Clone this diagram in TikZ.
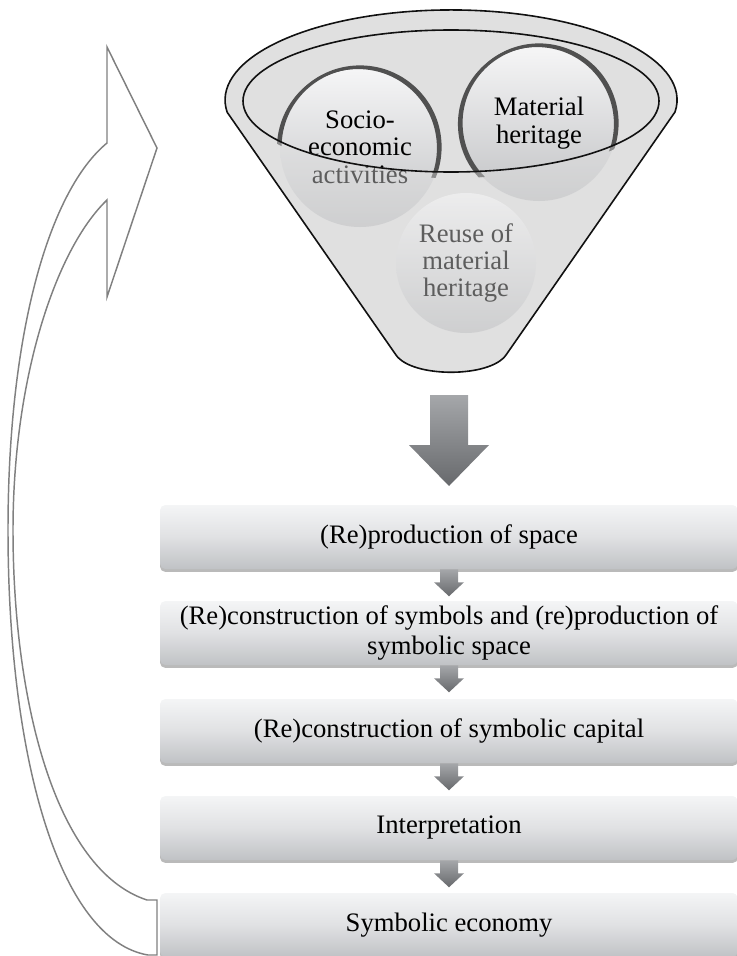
\documentclass[tikz,border=0pt]{standalone}
\usepackage{fontspec}
\setmainfont{Liberation Serif}
\usetikzlibrary{calc,shadows}

\definecolor{funnelfill}{HTML}{E0E0E0}
\definecolor{rimline}{HTML}{111111}
\definecolor{bubbletop}{HTML}{F6F6F7}
\definecolor{bubblebot}{HTML}{C2C3C5}
\definecolor{bubbleedge}{HTML}{505050}
\definecolor{boxtop}{HTML}{F4F5F6}
\definecolor{boxmid}{HTML}{E0E1E3}
\definecolor{boxbot}{HTML}{C0C2C5}
\definecolor{arrtop}{HTML}{A5A7AA}
\definecolor{arrbot}{HTML}{67696C}
\definecolor{loopline}{HTML}{808080}

\tikzset{
  stepbox/.style={rectangle, rounded corners=4pt, minimum width=433.5pt,
    minimum height=48pt, inner sep=0pt, top color=boxtop, bottom color=boxbot,
    middle color=boxmid,
    drop shadow={shadow xshift=0pt, shadow yshift=-2.2pt, opacity=0.45, fill=gray!80!black},
    font=\fontsize{20}{22.5}\selectfont, align=center, text=black},
  bubble/.style={circle, inner sep=0pt, top color=bubbletop, bottom color=bubblebot,
    font=\fontsize{20}{20.5}\selectfont, align=center, text=black},
  smallarr/.pic={
    \shade[top color=arrtop, bottom color=arrbot]
      (-9,0) -- (9,0) -- (9,13) -- (15,13) -- (0,27) -- (-15,13) -- (-9,13) -- cycle;},
  bigarr/.pic={
    \shade[top color=arrtop, bottom color=arrbot]
      (-19,0) -- (19,0) -- (19,50) -- (40,50) -- (0,91) -- (-40,50) -- (-19,50) -- cycle;}
}

% outline of the funnel: side walls, rounded spout and the upper rim arc
\def\funnelpath{(227,112) -- (396,355) .. controls (412,378) and (490,378) .. (506,355)
  -- (675,112) arc[start angle=7.7, end angle=-187.7, x radius=226, y radius=90] -- cycle}

\begin{document}
\begin{tikzpicture}[x=0.75pt, y=-0.75pt]
\useasboundingbox (0,0) rectangle (736,956);

% feedback loop arrow on the left
\draw[loopline, line width=1.1pt, fill=white, line join=miter]
  (157,148) -- (107,47) -- (107,143)
  .. controls (50,190) and (8,330) .. (8,530)
  .. controls (8,760) and (60,940) .. (148,955)
  -- (157,955) -- (157,900) -- (147,900)
  .. controls (55,870) and (13,700) .. (13,530)
  .. controls (13,380) and (55,250) .. (107,200)
  -- (107,297) -- cycle;

% funnel body
\fill[funnelfill] \funnelpath;

% inputs poured into the funnel
\node[bubble, minimum size=120pt] (socio) at (360,147) {Socio-\\economic\\activities};
\node[bubble, minimum size=117pt] (material) at (539,123) {Material\\heritage};
\node[bubble, minimum size=105pt] (reuse) at (466,263) {Reuse of\\material\\heritage};

% dark rims of the bubbles that sit inside the opening, heavier on the left
\begin{scope}
  \clip (451,101) ellipse [x radius=209, y radius=77];
  \draw[bubbleedge, line width=2.4pt] (socio.center) circle [radius=80];
  \draw[bubbleedge, line width=2.4pt] (material.center) circle [radius=78];
  \draw[bubbleedge, line width=1.6pt] ($(socio.center)+(-2,1)$) circle [radius=80];
  \draw[bubbleedge, line width=1.6pt] ($(material.center)+(-2,1)$) circle [radius=78];
\end{scope}

% translucent funnel wall over everything below the opening
\fill[funnelfill, opacity=0.42, even odd rule] \funnelpath
  (451,101) ellipse [x radius=208, y radius=71];

% funnel outline and inner rim
\draw[rimline, line width=1.2pt, line join=round] \funnelpath;
\draw[rimline, line width=1.2pt] (451,101) ellipse [x radius=208, y radius=71];
\coordinate (spout) at (451,372);

% process steps
\node[stepbox] (b1) at (449,537) {(Re)production of space};
\node[stepbox] (b2) at (449,633) {(Re)construction of symbols and (re)production of\\symbolic space};
\node[stepbox] (b3) at (449,731) {(Re)construction of symbolic capital};
\node[stepbox] (b4) at (449,828) {Interpretation};
\node[stepbox] (b5) at (449,925) {Symbolic economy};

% flow arrows
\pic at ($(spout)+(-2,23)$) {bigarr};
\pic at (b1.south) {smallarr};
\pic at (b2.south) {smallarr};
\pic at (b3.south) {smallarr};
\pic at (b4.south) {smallarr};
\end{tikzpicture}
\end{document}
